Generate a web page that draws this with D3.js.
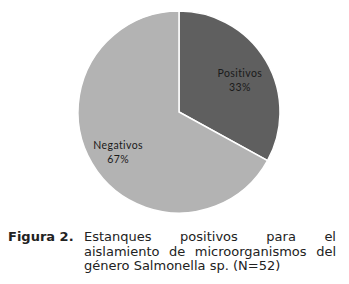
<!DOCTYPE html>
<html>
<head>
<meta charset="utf-8">
<script src="https://cdn.jsdelivr.net/npm/d3@7"></script>
<style>
  body { margin: 0; background: #fff; }
  svg { display: block; }
</style>
</head>
<body>
<div id="chart"></div>
<script>
// datos
const categorias = ["Positivos", "Negativos"];
const porcentajes = [33, 67];
const colores = ["#5f5f5f", "#b3b3b3"];

const leyendaNum = "Figura 2.";
const leyendaLineas = [
    "Estanques positivos para el",
    "aislamiento de microorganismos del",
    "género Salmonella sp. (N=52)"
];

const width = 349, height = 284;
const cx = 179, cy = 112, radio = 101;

const svg = d3.select("#chart").append("svg")
    .attr("width", width)
    .attr("height", height);

const datos = categorias.map((c, i) => ({ cat: c, valor: porcentajes[i], color: colores[i] }));

const pie = d3.pie().sort(null).value(d => d.valor);
const arc = d3.arc().innerRadius(0).outerRadius(radio);
const arcEtiqueta = d3.arc().innerRadius(radio * 0.7).outerRadius(radio * 0.7);

const g = svg.append("g").attr("transform", `translate(${cx},${cy})`);

g.selectAll("path")
    .data(pie(datos))
    .enter()
    .append("path")
    .attr("d", arc)
    .attr("fill", d => d.data.color)
    .attr("stroke", "#fff")
    .attr("stroke-width", 1.5);

// etiquetas dentro de cada sector
const etiquetas = g.selectAll(".etiqueta")
    .data(pie(datos))
    .enter()
    .append("text")
    .attr("class", "etiqueta")
    .attr("text-anchor", "middle")
    .attr("font-family", "Lato, 'Open Sans', sans-serif")
    .attr("font-size", "10.5px")
    .attr("letter-spacing", "0.4px")
    .attr("fill", "#1a1a1a")
    .attr("transform", d => {
        const c = arcEtiqueta.centroid(d);
        return `translate(${c[0]},${c[1]})`;
    });

etiquetas.append("tspan").attr("x", 0).attr("y", 1).text(d => d.data.cat);
etiquetas.append("tspan").attr("x", 0).attr("y", 15).text(d => d.data.valor + "%");

// leyenda de la figura
const fuente = "'DejaVu Sans', Verdana, sans-serif";
const tam = 13;
const x0 = 84, x1 = 336, base = 241, paso = 14.5;

svg.append("text")
    .attr("x", 8)
    .attr("y", base)
    .attr("font-family", fuente)
    .attr("font-size", "13px")
    .attr("font-weight", "bold")
    .attr("fill", "#222")
    .text(leyendaNum);

leyendaLineas.forEach((linea, i) => {
    const y = base + i * paso;
    const palabras = linea.split(" ");
    const temp = palabras.map(p => svg.append("text")
        .attr("font-family", fuente)
        .attr("font-size", tam + "px")
        .attr("fill", "#222")
        .attr("y", y)
        .text(p));
    const anchos = temp.map(t => t.node().getComputedTextLength());
    const total = d3.sum(anchos);
    const espacio = tam * 0.32;
    // texto justificado salvo la última línea
    let hueco = espacio;
    if (i < leyendaLineas.length - 1) {
        hueco = (x1 - x0 - total) / (palabras.length - 1);
        if (hueco < espacio * 0.6) {
            // no cabe: comprimir ligeramente
            const f = (x1 - x0 - espacio * 0.6 * (palabras.length - 1)) / total;
            temp.forEach((t, j) => t.attr("textLength", anchos[j] * f).attr("lengthAdjust", "spacingAndGlyphs"));
            anchos.forEach((a, j) => anchos[j] = a * f);
            hueco = espacio * 0.6;
        }
    }
    let x = x0;
    temp.forEach((t, j) => {
        t.attr("x", x);
        x += anchos[j] + hueco;
    });
});
</script>
</body>
</html>
